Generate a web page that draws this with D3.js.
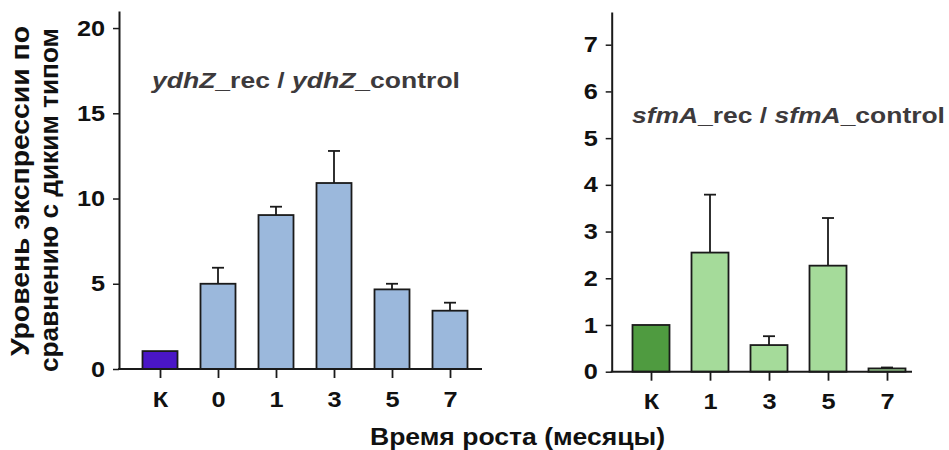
<!DOCTYPE html>
<html>
<head>
<meta charset="utf-8">
<script src="https://cdn.jsdelivr.net/npm/d3@7"></script>
<style>
  body { margin: 0; background: #fff; }
  svg { display: block; font-family: "Liberation Sans", Arial, sans-serif; }
  .tick text { font-weight: bold; fill: #111; font-family: "Liberation Sans", Arial, sans-serif; }
</style>
</head>
<body>
<script>
// ydhZ panel
var leftCats = ["К", "0", "1", "3", "5", "7"];
var leftMeans = [1.05, 5.0, 9.03, 10.91, 4.67, 3.42];
var leftErr = [0, 0.94, 0.49, 1.88, 0.33, 0.47];
var leftTicks = [0, 5, 10, 15, 20];
var leftColors = ["#4a16c6", "#9bb8dc", "#9bb8dc", "#9bb8dc", "#9bb8dc", "#9bb8dc"];

// sfmA panel
var rightCats = ["К", "1", "3", "5", "7"];
var rightMeans = [1.0, 2.55, 0.57, 2.27, 0.07];
var rightErr = [0, 1.24, 0.19, 1.02, 0.02];
var rightTicks = [0, 1, 2, 3, 4, 5, 6, 7];
var rightColors = ["#4f9b40", "#a5db9a", "#a5db9a", "#a5db9a", "#a5db9a"];

var width = 949, height = 450;
var sx = 1.15; // glyphs in the original are a bit wide

var svg = d3.select("body").append("svg")
	.attr("width", width)
	.attr("height", height);

function drawPanel(p) {
	var y = d3.scaleLinear().domain(p.yDomain).range([p.y0, p.yTop]);
	var x = d3.scalePoint().domain(p.cats).range([p.xFirst, p.xLast]);
	var g = svg.append("g");

	// y axis
	var yAxis = g.append("g")
		.attr("transform", "translate(" + p.x0 + ",0)")
		.call(d3.axisLeft(y).tickValues(p.ticks).tickSize(6).tickPadding(8).tickSizeOuter(0));
	yAxis.attr("font-family", null);
	yAxis.select(".domain").attr("stroke", "#1a1a1a").attr("stroke-width", 2);
	yAxis.selectAll(".tick line").attr("stroke", "#1a1a1a").attr("stroke-width", 1.5);
	yAxis.selectAll(".tick text")
		.style("font-size", "22px")
		.attr("x", -14 / sx)
		.attr("transform", "scale(" + sx + ",1)");

	// bars
	var bars = g.selectAll("g.bar")
		.data(p.means)
		.enter()
		.append("g")
		.attr("class", "bar");

	bars.filter(function (d, i) { return p.err[i] > 0; })
		.append("line")
		.attr("x1", function (d) { return x(p.cats[p.means.indexOf(d)]); })
		.attr("x2", function (d) { return x(p.cats[p.means.indexOf(d)]); })
		.attr("y1", function (d) { return y(d); })
		.attr("y2", function (d) { return y(d + p.err[p.means.indexOf(d)]); })
		.attr("stroke", "#1a1a1a")
		.attr("stroke-width", 1.8);

	bars.filter(function (d, i) { return p.err[i] > 0; })
		.append("line")
		.attr("x1", function (d) { return x(p.cats[p.means.indexOf(d)]) - 6; })
		.attr("x2", function (d) { return x(p.cats[p.means.indexOf(d)]) + 6; })
		.attr("y1", function (d) { return y(d + p.err[p.means.indexOf(d)]); })
		.attr("y2", function (d) { return y(d + p.err[p.means.indexOf(d)]); })
		.attr("stroke", "#1a1a1a")
		.attr("stroke-width", 1.8);

	bars.append("rect")
		.attr("x", function (d, i) { return x(p.cats[i]) - p.barW / 2; })
		.attr("y", function (d) { return y(d); })
		.attr("width", p.barW)
		.attr("height", function (d) { return y(0) - y(d); })
		.attr("fill", function (d, i) { return p.colors[i]; })
		.attr("stroke", "#1a1a1a")
		.attr("stroke-width", 1.8);

	// x axis
	g.append("line")
		.attr("x1", p.x0 - 1)
		.attr("x2", p.xEnd)
		.attr("y1", y(0))
		.attr("y2", y(0))
		.attr("stroke", "#1a1a1a")
		.attr("stroke-width", 2);

	var xAxis = g.append("g")
		.attr("transform", "translate(0," + y(0) + ")")
		.call(d3.axisBottom(x).tickSize(9).tickPadding(13).tickSizeOuter(0));
	xAxis.attr("font-family", null);
	xAxis.select(".domain").remove();
	xAxis.selectAll(".tick line").attr("stroke", "#1a1a1a").attr("stroke-width", 1.8);
	xAxis.selectAll(".tick text")
		.style("font-size", "22px")
		.attr("transform", "scale(" + sx + ",1)");

	// panel title
	var t = g.append("text")
		.attr("x", p.titleX)
		.attr("y", p.titleY)
		.attr("textLength", p.titleW)
		.attr("lengthAdjust", "spacingAndGlyphs")
		.style("font-size", "22px")
		.style("font-weight", "bold")
		.style("fill", "#3d3a3c");
	t.append("tspan").style("font-style", "italic").text(p.gene);
	t.append("tspan").text("_rec / ");
	t.append("tspan").style("font-style", "italic").text(p.gene);
	t.append("tspan").text("_control");
}

drawPanel({
	cats: leftCats, means: leftMeans, err: leftErr, ticks: leftTicks, colors: leftColors,
	yDomain: [0, 21], y0: 369, yTop: 11, x0: 119, xEnd: 482, xFirst: 160, xLast: 450, barW: 35,
	gene: "ydhZ", titleX: 152, titleY: 88, titleW: 308
});

drawPanel({
	cats: rightCats, means: rightMeans, err: rightErr, ticks: rightTicks, colors: rightColors,
	yDomain: [0, 7.7], y0: 371.7, yTop: 12, x0: 611.7, xEnd: 912, xFirst: 651, xLast: 887, barW: 37,
	gene: "sfmA", titleX: 632, titleY: 123, titleW: 313
});

// y label (two lines)
svg.append("text")
	.attr("transform", "translate(29,356) rotate(-90)")
	.attr("textLength", 330)
	.attr("lengthAdjust", "spacingAndGlyphs")
	.style("font-size", "25px")
	.style("font-weight", "bold")
	.style("fill", "#111")
	.text("Уровень экспрессии по");

svg.append("text")
	.attr("transform", "translate(57.5,372) rotate(-90)")
	.attr("textLength", 344)
	.attr("lengthAdjust", "spacingAndGlyphs")
	.style("font-size", "25px")
	.style("font-weight", "bold")
	.style("fill", "#111")
	.text("сравнению с диким типом");

// x label
svg.append("text")
	.attr("x", 370)
	.attr("y", 445)
	.attr("textLength", 295)
	.attr("lengthAdjust", "spacingAndGlyphs")
	.style("font-size", "24px")
	.style("font-weight", "bold")
	.style("fill", "#111")
	.text("Время роста (месяцы)");
</script>
</body>
</html>
